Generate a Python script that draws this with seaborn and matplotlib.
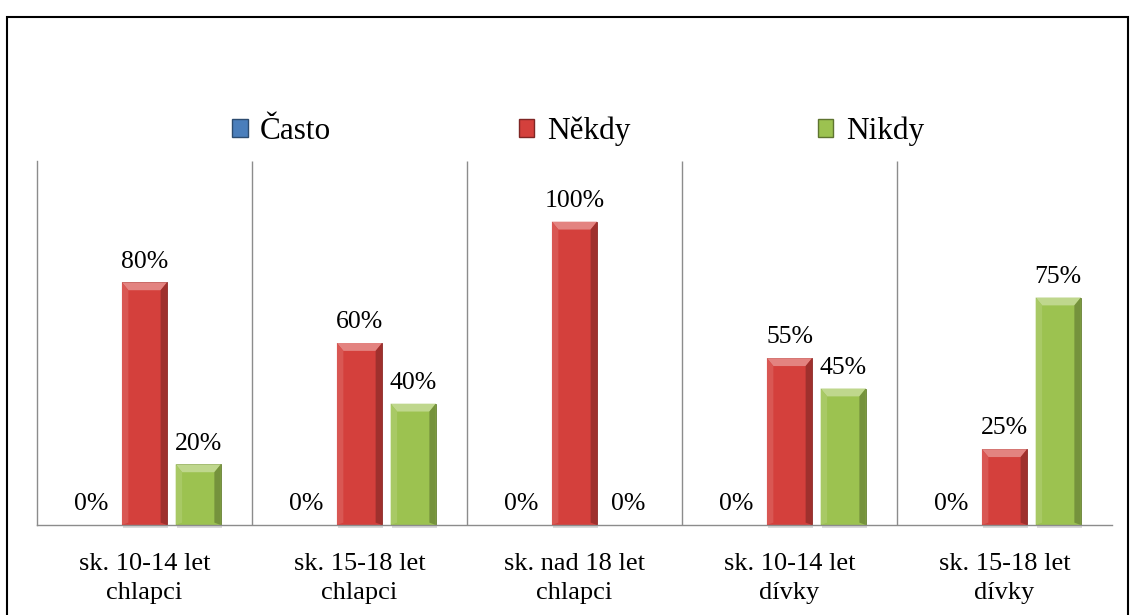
import matplotlib
matplotlib.use("Agg")
import numpy as np
import pandas as pd
import matplotlib.pyplot as plt
import matplotlib.colors as mcolors
import seaborn as sns
from matplotlib.patches import Rectangle, Polygon, Patch

# Data
categories = ["sk. 10-14 let\nchlapci", "sk. 15-18 let\nchlapci", "sk. nad 18 let\nchlapci",
              "sk. 10-14 let\ndívky", "sk. 15-18 let\ndívky"]
series = ["Často", "Někdy", "Nikdy"]
casto = [0, 0, 0, 0, 0]
nekdy = [80, 60, 100, 55, 25]
nikdy = [20, 40, 0, 45, 75]
colors = {"Často": "#4A7EBB", "Někdy": "#D4403C", "Nikdy": "#9CC250"}

df = pd.DataFrame({
    "skupina": categories * 3,
    "odpoved": np.repeat(series, len(categories)),
    "procenta": casto + nekdy + nikdy,
})


def mix(c, other, t):
    a = np.array(mcolors.to_rgb(c))
    b = np.array(mcolors.to_rgb(other))
    return tuple(a * (1 - t) + b * t)


sns.set_theme(style="white")
plt.rcParams["font.family"] = ["Liberation Serif", "DejaVu Serif"]
plt.rcParams["text.color"] = "black"

fig = plt.figure(figsize=(11.3, 6.15), dpi=100)
ax = fig.add_axes([37 / 1130, 90 / 615, 1075 / 1130, 364 / 615])

sns.barplot(data=df, x="skupina", y="procenta", hue="odpoved", palette=colors,
            width=0.75, gap=0.16, saturation=1, legend=False, ax=ax)

ax.set_xlim(-0.5, 4.5)
ax.set_ylim(0, 120)

# bevel look, built from the bar patches themselves
bx, by = 0.03, 2.6
for p in list(ax.patches):
    h = p.get_height()
    if h <= 0:
        continue
    x0, w = p.get_x(), p.get_width()
    base = p.get_facecolor()
    p.set_edgecolor(mix(base, "black", 0.35))
    p.set_linewidth(0.6)
    ax.add_patch(Rectangle((x0 + 0.005, -1.0), w, 1.0, color="#999999", alpha=0.35,
                           zorder=1, clip_on=False, lw=0))
    top = [(x0, h), (x0 + w, h), (x0 + w - bx, h - by), (x0 + bx, h - by)]
    left = [(x0, 0), (x0, h), (x0 + bx, h - by), (x0 + bx, by * 0.3)]
    right = [(x0 + w, 0), (x0 + w, h), (x0 + w - bx, h - by), (x0 + w - bx, by * 0.3)]
    ax.add_patch(Polygon(top, closed=True, color=mix(base, "white", 0.35), lw=0, zorder=3))
    ax.add_patch(Polygon(left, closed=True, color=mix(base, "white", 0.12), lw=0, zorder=3))
    ax.add_patch(Polygon(right, closed=True, color=mix(base, "black", 0.25), lw=0, zorder=3))

for cont in ax.containers:
    ax.bar_label(cont, fmt="%.0f%%", padding=7, fontsize=18.5, color="black")

# category separators
ax.vlines([0.5, 1.5, 2.5, 3.5], 0, 120, color="#8C8C8C", lw=1, zorder=0)
for side in ["top", "right"]:
    ax.spines[side].set_visible(False)
for side in ["left", "bottom"]:
    ax.spines[side].set_color("#8C8C8C")
    ax.spines[side].set_linewidth(1)

ax.set_yticks([])
ax.set_xlabel("")
ax.set_ylabel("")
ax.tick_params(axis="x", length=0, pad=20, labelsize=19, colors="black")
for lab in ax.get_xticklabels():
    lab.set_linespacing(1.4)

handles = [Patch(facecolor=colors[s], edgecolor=mix(colors[s], "black", 0.4), label=s)
           for s in series]
fig.legend(handles=handles, loc="center", bbox_to_anchor=(578 / 1130, 1 - 131 / 615),
           ncol=3, frameon=False, fontsize=22.5, handlelength=0.5, handleheight=0.5,
           handletextpad=0.4, columnspacing=6.0, labelcolor="black")

# outer chart border
fig.add_artist(Rectangle((7 / 1130, -0.1), 1121 / 1130, 1.1 - 17 / 615,
                         transform=fig.transFigure, fill=False, edgecolor="black", lw=1.5))

fig.savefig("out.png", dpi=100)
